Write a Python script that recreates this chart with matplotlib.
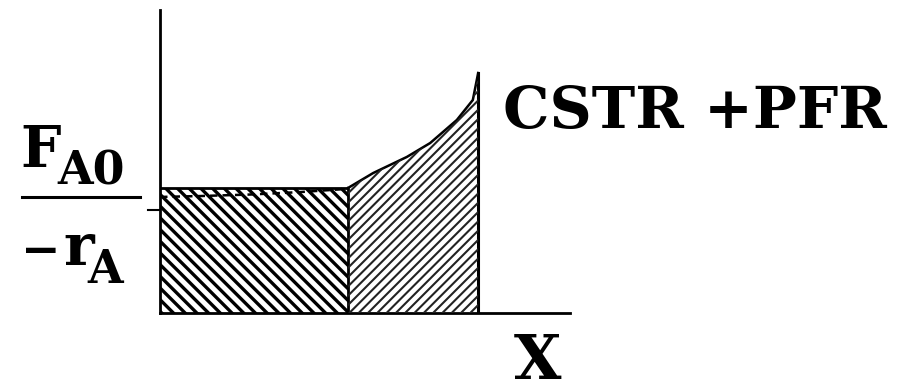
import matplotlib
matplotlib.use("Agg")
import matplotlib.pyplot as plt
from matplotlib.patches import Polygon
from matplotlib.collections import LineCollection
from matplotlib.transforms import IdentityTransform
import numpy as np

# Curve F_A0/(-r_A) vs X (normalized units)
curve_x = [0.0, 0.098, 0.22, 0.341, 0.439, 0.459, 0.52, 0.602, 0.659, 0.724, 0.763, 0.776]
curve_y = [0.383, 0.386, 0.391, 0.399, 0.408, 0.413, 0.462, 0.515, 0.561, 0.637, 0.703, 0.792]
x_cstr = 0.459
x_pfr_end = 0.776
cstr_height = 0.413
tick_y = 0.34

W, H = 899, 384
fig = plt.figure(figsize=(W / 100, H / 100), dpi=100)
ax = fig.add_axes([160 / W, (H - 313) / H, 410 / W, 303 / H])
ax.set_xlim(0, 1)
ax.set_ylim(0, 1)
for s in ["top", "right"]:
    ax.spines[s].set_visible(False)
for s in ["left", "bottom"]:
    ax.spines[s].set_linewidth(2.0)
ax.set_xticks([])
ax.set_yticks([])


def hatch(poly, period, lw, direction, color):
    """Draw 45-degree hatch lines (in pixel space) clipped to poly."""
    ax.add_patch(poly)
    fig.canvas.draw()
    ext = poly.get_window_extent()
    x0, x1, y0, y1 = ext.x0 - 5, ext.x1 + 5, ext.y0 - 5, ext.y1 + 5
    h = y1 - y0
    segs = []
    c = x0 - h - period
    while c < x1 + h + period:
        if direction > 0:
            segs.append([(c, y0), (c + h, y1)])
        else:
            segs.append([(c + h, y0), (c, y1)])
        c += period
    lc = LineCollection(segs, colors=color, linewidths=lw, transform=IdentityTransform())
    lc.set_clip_path(poly)
    fig.add_artist(lc)


cx = np.array(curve_x)
cy = np.array(curve_y)
mask = cx >= x_cstr
px = cx[mask]
py = cy[mask]

cstr_poly = Polygon([(0, 0), (0, cstr_height), (x_cstr, cstr_height), (x_cstr, 0)],
                    closed=True, facecolor="white", edgecolor="none")
pfr_pts = [(x_cstr, 0)] + list(zip(px, py)) + [(x_pfr_end, 0)]
pfr_poly = Polygon(pfr_pts, closed=True, facecolor="white", edgecolor="none")
hatch(cstr_poly, 11.7, 2.4, -1, "black")
hatch(pfr_poly, 9.3, 1.5, +1, "#222222")

ax.plot([0, x_cstr, x_cstr], [cstr_height, cstr_height, 0], color="black", lw=2.0, zorder=5)
ax.plot(px, py, color="black", lw=1.8, zorder=5)
ax.plot([x_pfr_end, x_pfr_end], [0, py[-1]], color="black", lw=2.2, zorder=5)

# dashed portion of curve inside CSTR box
m2 = cx <= x_cstr
ax.plot(cx[m2], cy[m2], color="black", lw=1.8, ls=(0, (3, 2)), zorder=5)

# small tick
ax.plot([-0.03, 0], [tick_y, tick_y], color="black", lw=1.5, clip_on=False)

font = dict(family="DejaVu Serif", fontweight="bold", color="black")
# y label fraction
fig.text(20 / W, 1 - 167 / H, "F", fontsize=41, ha="left", va="baseline", **font)
fig.text(57 / W, 1 - 185 / H, "A0", fontsize=33, ha="left", va="baseline", **font)
fig.add_artist(plt.Line2D([22 / W, 140 / W], [1 - 197 / H, 1 - 197 / H], color="black", lw=2.2))
fig.text(21 / W, 1 - 247 / H, "\u2212", fontsize=34, ha="left", va="center_baseline", **font)
fig.text(63 / W, 1 - 265 / H, "r", fontsize=42, ha="left", va="baseline", **font)
fig.text(87 / W, 1 - 283 / H, "A", fontsize=33, ha="left", va="baseline", **font)

fig.text(503 / W, 1 - 128 / H, "CSTR +PFR", fontsize=42, ha="left", va="baseline", **font)
fig.text(514 / W, 1 - 379 / H, "X", fontsize=44, ha="left", va="baseline", **font)

fig.savefig("out.png", dpi=100, facecolor="white")
